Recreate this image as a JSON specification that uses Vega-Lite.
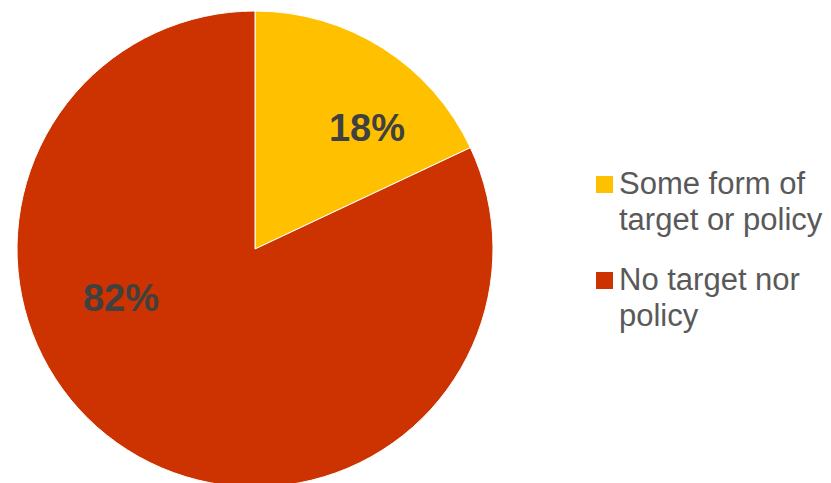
{
  "$schema": "https://vega.github.io/schema/vega-lite/v6.json",
  "width": 510,
  "height": 498,
  "padding": 0,
  "autosize": "pad",
  "background": "white",
  "config": {
    "view": {"stroke": null},
    "font": "Liberation Sans",
    "style": {"guide-label": {"lineHeight": 36}}
  },
  "data": {
    "values": [
      {"category": "Some form of target or policy", "share": 18, "label": "18%", "rank": 1},
      {"category": "No target nor policy", "share": 82, "label": "82%", "rank": 2}
    ]
  },
  "encoding": {
    "theta": {"field": "share", "type": "quantitative", "stack": true},
    "order": {"field": "rank", "type": "quantitative"},
    "color": {
      "field": "category",
      "type": "nominal",
      "sort": ["Some form of target or policy", "No target nor policy"],
      "scale": {
        "domain": ["Some form of target or policy", "No target nor policy"],
        "range": ["#FFC000", "#CC3300"]
      },
      "legend": {
        "orient": "none",
        "legendX": 589,
        "legendY": 169,
        "title": null,
        "symbolType": "square",
        "symbolSize": 289,
        "symbolStrokeWidth": 0,
        "symbolOpacity": 1,
        "labelFont": "Liberation Sans",
        "labelFontSize": 31,
        "labelColor": "#595959",
        "labelOffset": -1,
        "labelLimit": 400,
        "rowPadding": 28,
        "labelExpr": "datum.label == 'Some form of target or policy' ? ['Some form of', 'target or policy'] : ['No target nor', 'policy']"
      }
    }
  },
  "layer": [
    {"mark": {"type": "arc", "outerRadius": 238, "stroke": "white", "strokeWidth": 1}},
    {
      "mark": {"type": "text", "radius": 140, "dx": 37, "dy": -1, "font": "Liberation Sans", "fontSize": 38, "fontWeight": "bold"},
      "encoding": {
        "text": {"condition": {"test": "datum.rank == 1", "field": "label"}, "value": ""},
        "color": {"value": "#404040"}
      }
    },
    {
      "mark": {"type": "text", "radius": 140, "dx": -59, "dy": -67, "font": "Liberation Sans", "fontSize": 38, "fontWeight": "bold"},
      "encoding": {
        "text": {"condition": {"test": "datum.rank == 2", "field": "label"}, "value": ""},
        "color": {"value": "#404040"}
      }
    }
  ]
}
